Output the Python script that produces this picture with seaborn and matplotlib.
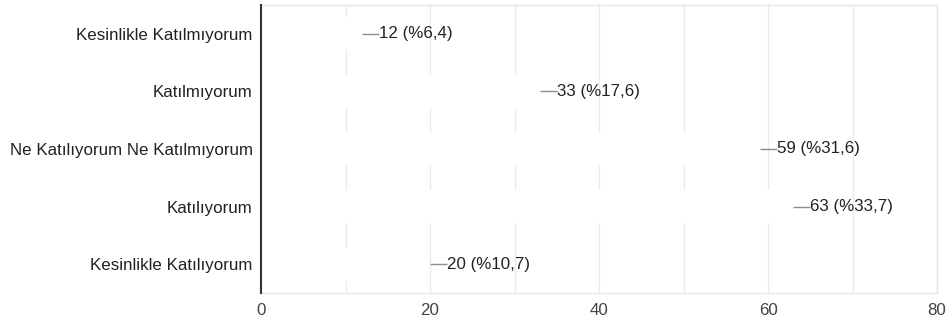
import matplotlib
matplotlib.use("Agg")
import matplotlib.pyplot as plt
import seaborn as sns
import pandas as pd

categories = [
    "Kesinlikle Katılmıyorum",
    "Katılmıyorum",
    "Ne Katılıyorum Ne Katılmıyorum",
    "Katılıyorum",
    "Kesinlikle Katılıyorum",
]
counts = [12, 33, 59, 63, 20]
percents = ["6,4", "17,6", "31,6", "33,7", "10,7"]
x_ticks = [0, 20, 40, 60, 80]

df = pd.DataFrame({"cevap": categories, "sayi": counts})

sns.set_theme(style="white")
plt.rcParams["font.family"] = ["Liberation Sans", "DejaVu Sans"]

fig = plt.figure(figsize=(9.48, 3.27), dpi=100)
ax = fig.add_axes([261 / 948, 1 - 293 / 327, (937 - 261) / 948, (293 - 5) / 327])

# light vertical grid every 10 units, drawn beneath the bars
for gx in range(10, 81, 10):
    ax.axvline(gx, color="#ebebeb", lw=1.0, zorder=0)

sns.barplot(data=df, x="sayi", y="cevap", orient="h", color="white",
            width=0.57, saturation=1, ax=ax, zorder=1)
for p in ax.patches:
    p.set_edgecolor("none")
    p.set_zorder(1)

ax.set_xlim(0, 80)
ax.set_ylim(len(categories) - 0.5, -0.5)

# short leader from each bar end to its value label
ax_px = ax.get_position().width * fig.get_figwidth() * fig.dpi
leader = 17 * (ax.get_xlim()[1] - ax.get_xlim()[0]) / ax_px
for i, (c, pct) in enumerate(zip(counts, percents)):
    ax.plot([c, c + leader], [i, i], color="#8c8c8c", lw=1.0, zorder=3,
            solid_capstyle="butt")
    ax.annotate(f"{c} (%{pct})", xy=(c, i), xytext=(17, 0),
                textcoords="offset pixels", va="center", ha="left",
                fontsize=12.2, color="#222222", zorder=3)

ax.set_xticks(x_ticks)
ax.set_xticklabels([str(t) for t in x_ticks])
ax.set_xlabel("")
ax.set_ylabel("")
ax.tick_params(axis="x", length=0, pad=7, labelsize=12.2, labelcolor="#444444")
ax.tick_params(axis="y", length=0, pad=6, labelsize=12.2, labelcolor="#222222")

for side in ["top", "right", "bottom"]:
    ax.spines[side].set_color("#e6e6e6")
    ax.spines[side].set_linewidth(1.0)
ax.spines["left"].set_color("#333333")
ax.spines["left"].set_linewidth(1.5)
ax.spines["left"].set_zorder(4)

fig.savefig("out.png", dpi=100, facecolor="white")
